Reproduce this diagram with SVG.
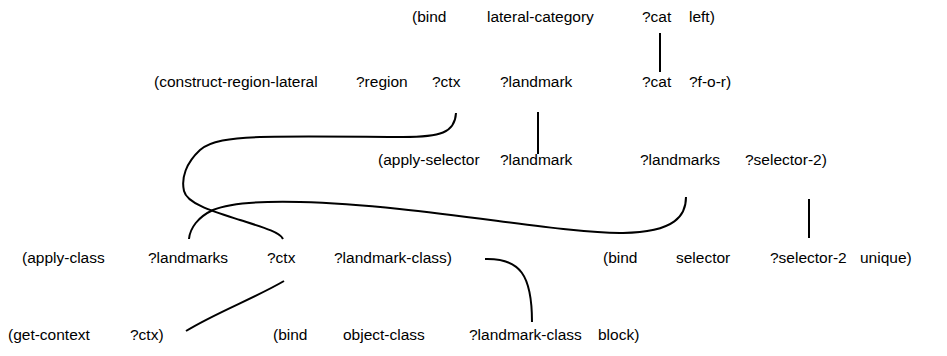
<svg xmlns="http://www.w3.org/2000/svg" width="947" height="356" viewBox="0 0 947 356">
<style>
text { font-family: "Liberation Sans", Arial, sans-serif; font-size: 15.5px; fill: #000; }
.c { fill: none; stroke: #000; stroke-width: 2; stroke-linecap: butt; }
</style>
<rect width="947" height="356" fill="#fff"/>
<g id="bind-lateral-category">
<text x="412" y="22">(bind</text>
<text x="487" y="22">lateral-category</text>
<text x="642" y="22">?cat</text>
<text x="689" y="22">left)</text>
</g>
<g id="construct-region-lateral">
<text x="154" y="87">(construct-region-lateral</text>
<text x="356" y="87">?region</text>
<text x="432" y="87">?ctx</text>
<text x="500" y="87">?landmark</text>
<text x="642" y="87">?cat</text>
<text x="689" y="87">?f-o-r)</text>
</g>
<g id="apply-selector">
<text x="378" y="165">(apply-selector</text>
<text x="500" y="165">?landmark</text>
<text x="640" y="165">?landmarks</text>
<text x="745" y="165">?selector-2)</text>
</g>
<g id="apply-class">
<text x="22" y="263">(apply-class</text>
<text x="148" y="263">?landmarks</text>
<text x="267" y="263">?ctx</text>
<text x="334" y="263">?landmark-class)</text>
</g>
<g id="bind-selector">
<text x="603" y="263">(bind</text>
<text x="676" y="263">selector</text>
<text x="770" y="263">?selector-2</text>
<text x="860" y="263">unique)</text>
</g>
<g id="get-context">
<text x="8" y="340">(get-context</text>
<text x="130" y="340">?ctx)</text>
</g>
<g id="bind-object-class">
<text x="273" y="340">(bind</text>
<text x="343" y="340">object-class</text>
<text x="469" y="340">?landmark-class</text>
<text x="598" y="340">block)</text>
</g>
<g id="connectors">
<path class="c" d="M660,33 V72"/>
<path class="c" d="M538,112 V154"/>
<path class="c" d="M809,199 V238"/>
<path class="c" d="M456,113 C455,133 440,137 403,137 C370,137 300,136 260,137 C230,138 210,141 200,150 C186,163 181,178 184,191 C187,204 215,212 240,220 C262,227 280,232 283,239"/>
<path class="c" d="M686,197 C686,215 676,232 623,233 C560,234 420,205 300,202 C260,201 230,203 213,210 C198,217 190,228 189,239"/>
<path class="c" d="M284,281 C255,298 215,313 186,331"/>
<path class="c" d="M485,259 C520,258 532,275 532,322"/>
</g>
</svg>
